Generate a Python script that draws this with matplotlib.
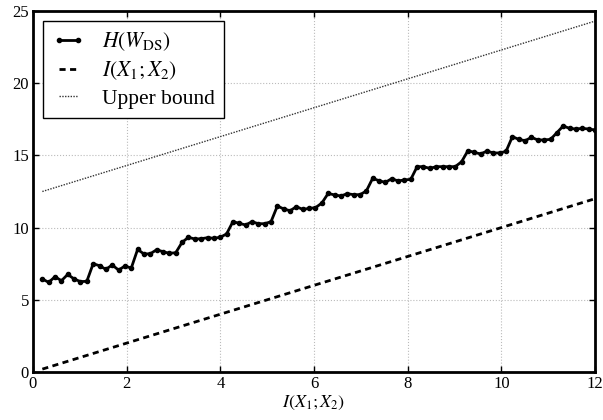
import numpy as np
import matplotlib
matplotlib.use("Agg")
import matplotlib.pyplot as plt

# mutual information I(X1;X2), 88 sample points
mi = np.linspace(0.2, 12, 88)

# entropy of the common message H(W_DS)
h_wds = [6.44, 6.21, 6.60, 6.32, 6.76, 6.44, 6.26, 6.28,
         7.50, 7.36, 7.11, 7.41, 7.06, 7.34, 7.20,
         8.49, 8.17, 8.19, 8.47, 8.33, 8.22, 8.26,
         8.98, 9.33, 9.21, 9.23, 9.30, 9.26, 9.33,
         9.56, 10.41, 10.30, 10.18, 10.41, 10.27, 10.27, 10.41,
         11.50, 11.29, 11.17, 11.45, 11.26, 11.33, 11.38,
         11.70, 12.37, 12.26, 12.19, 12.35, 12.28, 12.28, 12.53,
         13.41, 13.25, 13.13, 13.39, 13.23, 13.30, 13.34,
         14.22, 14.22, 14.10, 14.22, 14.22, 14.22, 14.22, 14.56,
         15.33, 15.21, 15.10, 15.30, 15.17, 15.17, 15.28,
         16.30, 16.11, 16.02, 16.25, 16.07, 16.07, 16.11, 16.57,
         17.04, 16.87, 16.83, 16.87, 16.83, 16.76]

upper_offset = 12.3

plt.rcParams['font.family'] = 'Liberation Serif'
plt.rcParams['mathtext.fontset'] = 'stix'
plt.rcParams['xtick.direction'] = 'in'
plt.rcParams['ytick.direction'] = 'in'
plt.rcParams['xtick.top'] = True
plt.rcParams['ytick.right'] = True

fig = plt.figure(figsize=(6.03, 4.20), dpi=100)
ax = fig.add_axes([0.0547, 0.1143, 0.932, 0.8595])

ax.plot(mi, h_wds, 'k-', marker='o', markersize=3, linewidth=2,
        label=r'$H(W_{\mathrm{DS}})$')
ax.plot(mi, mi, color='k', linestyle=(0, (2.2, 1.6)), linewidth=2,
        label=r'$I(X_1;X_2)$')
ax.plot(mi, mi + upper_offset, color='#333333', linestyle=(0, (1, 1)),
        linewidth=1, label='Upper bound')

ax.set_xlim(0, 12)
ax.set_ylim(0, 25)
ax.set_xticks(range(0, 13, 2))
ax.set_yticks(range(0, 26, 5))
ax.tick_params(labelsize=12, length=4, width=1, pad=3)
for s in ax.spines.values():
    s.set_linewidth(2)
ax.grid(True, color='#bbbbbb', linestyle=':', linewidth=0.8)
ax.set_xlabel(r'$I(X_1;X_2)$', fontsize=13, labelpad=1)

leg = ax.legend(loc='upper left', fontsize=15.5, fancybox=False, framealpha=1,
                edgecolor='black', handlelength=1.5, numpoints=2,
                borderpad=0.45, labelspacing=0.3, borderaxespad=0.45)
leg.get_frame().set_linewidth(1)

fig.savefig('out.png', dpi=100)
